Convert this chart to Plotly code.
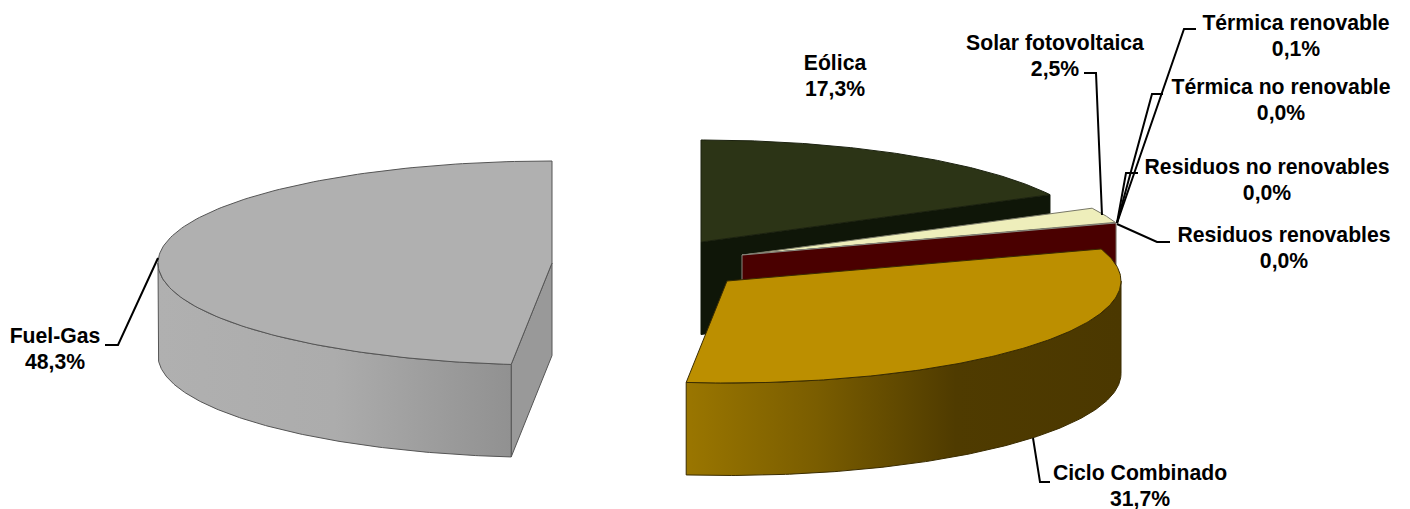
import numpy as np
import plotly.graph_objects as go

# ---- data (clockwise from 12 o'clock) ----
labels = ["Eólica", "Solar fotovoltaica", "Térmica renovable", "Térmica no renovable",
          "Residuos no renovables", "Residuos renovables", "Ciclo Combinado", "Fuel-Gas"]
values = [17.3, 2.5, 0.1, 0.0, 0.0, 0.0, 31.7, 48.3]
value_text = ["17,3%", "2,5%", "0,1%", "0,0%", "0,0%", "0,0%", "31,7%", "48,3%"]

# ---- pie geometry / style ----
RX, RY, DEPTH = 394, 102, 92.5
LINE_GAP = 25.6
centers = {  # exploded slice centres in page pixels
    "Eólica": (701, 242), "Solar fotovoltaica": (742, 255), "Térmica renovable": (742, 255),
    "Térmica no renovable": (742, 255), "Residuos no renovables": (742, 255),
    "Residuos renovables": (742, 255), "Ciclo Combinado": (727, 281), "Fuel-Gas": (552, 263),
}
top_color = {"Eólica": "#2c3416", "Solar fotovoltaica": "#eeeebb", "Térmica renovable": "#eeeebb",
             "Térmica no renovable": "#666666", "Residuos no renovables": "#666666",
             "Residuos renovables": "#4a0000", "Ciclo Combinado": "#bc8f00", "Fuel-Gas": "#b0b0b0"}
label_pos = {"Eólica": (835, 78), "Solar fotovoltaica": (1055, 58), "Térmica renovable": (1296, 38),
             "Térmica no renovable": (1281, 102), "Residuos no renovables": (1267, 182),
             "Residuos renovables": (1284, 250), "Ciclo Combinado": (1140, 488), "Fuel-Gas": (55, 351)}
leaders = {
    "Fuel-Gas": ([158, 118, 105], [258, 345, 345]),
    "Ciclo Combinado": ([1033, 1040, 1050], [438, 482, 482]),
    "Solar fotovoltaica": ([1102, 1096, 1084], [215, 73, 73]),
    "Térmica renovable": ([1117, 1184, 1196], [223, 29, 29]),
    "Térmica no renovable": ([1117, 1152, 1163], [223, 94, 94]),
    "Residuos no renovables": ([1117, 1126, 1138], [223, 173, 173]),
    "Residuos renovables": ([1117, 1157, 1170], [224, 242, 242]),
}

total = sum(values)
ends = np.cumsum(values) / total * 2 * np.pi
starts = np.concatenate([[0], ends[:-1]])
ang = {l: (s, e) for l, s, e in zip(labels, starts, ends)}


def rim(name, a0, a1, n=160):
    cx, cy = centers[name]
    t = np.linspace(a0, a1, n)
    return cx + RX * np.sin(t), cy - RY * np.cos(t)


fig = go.Figure()


def poly(x, y, color=None, line="#333333", width=1, gradient=None):
    kw = dict(fillgradient=gradient) if gradient else dict(fillcolor=color)
    fig.add_trace(go.Scatter(x=list(x), y=list(y), mode="lines", fill="toself",
                             line=dict(color=line, width=width), hoverinfo="skip",
                             showlegend=False, **kw))


def top(name, line="#333333"):
    cx, cy = centers[name]
    a0, a1 = ang[name]
    x, y = rim(name, a0, a1)
    poly(np.r_[cx, x, cx], np.r_[cy, y, cy], top_color[name], line)


def radial_wall(name, a, color, line="#222222"):
    cx, cy = centers[name]
    x, y = rim(name, a, a, 1)
    poly([cx, x[0], x[0], cx, cx], [cy, y[0], y[0] + DEPTH, cy + DEPTH, cy], color, line)


def rim_wall(name, a0, a1, stops, line="#333333"):
    x, y = rim(name, a0, a1)
    poly(np.r_[x, x[::-1], x[0]], np.r_[y, y[::-1] + DEPTH, y[0]], line=line,
         gradient=dict(type="horizontal", colorscale=stops))


# Eólica, at the back
radial_wall("Eólica", ang["Eólica"][1], "#0f1608", "#0f1608")
top("Eólica", "#1c2210")

# Solar and the very thin slices
top("Solar fotovoltaica", "#777766")
top("Térmica renovable", "#777766")
radial_wall("Residuos renovables", ang["Residuos renovables"][1], "#4a0000", "#8a8a80")

# Ciclo Combinado
rim_wall("Ciclo Combinado", np.pi / 2, ang["Ciclo Combinado"][1],
         [[0, "#9a7600"], [0.3, "#7a5d00"], [0.62, "#4f3b00"], [1, "#4b3800"]], "#3a2c00")
top("Ciclo Combinado", "#3a2c00")

# Fuel-Gas
radial_wall("Fuel-Gas", ang["Fuel-Gas"][0], "#999999", "#555555")
rim_wall("Fuel-Gas", ang["Fuel-Gas"][0], 1.5 * np.pi,
         [[0, "#b0b0b0"], [0.5, "#acacac"], [1, "#919191"]], "#555555")
top("Fuel-Gas", "#555555")

# leader lines
for name, (lx, ly) in leaders.items():
    fig.add_trace(go.Scatter(x=lx, y=ly, mode="lines", line=dict(color="black", width=2),
                             hoverinfo="skip", showlegend=False))

# labels: one text per line so that the line gap can be set
tx, ty, tt = [], [], []
for name, txt in zip(labels, value_text):
    x, y = label_pos[name]
    tx += [x, x]
    ty += [y - LINE_GAP / 2, y + LINE_GAP / 2]
    tt += [name, txt]
fig.add_trace(go.Scatter(x=tx, y=ty, text=tt, mode="text", textposition="middle center",
                         cliponaxis=False, hoverinfo="skip", showlegend=False,
                         textfont=dict(family="Liberation Sans, Arial, sans-serif", size=21.2,
                                       color="black", weight="bold")))

fig.update_xaxes(range=[0, 1410], visible=False, fixedrange=True)
fig.update_yaxes(range=[509, 0], visible=False, fixedrange=True)
fig.update_layout(width=1410, height=509, margin=dict(l=0, r=0, t=0, b=0),
                  paper_bgcolor="white", plot_bgcolor="white")
fig.write_html("out.html", config={"displayModeBar": False},
               post_script="document.body.style.margin='0';document.body.style.overflow='hidden';")
